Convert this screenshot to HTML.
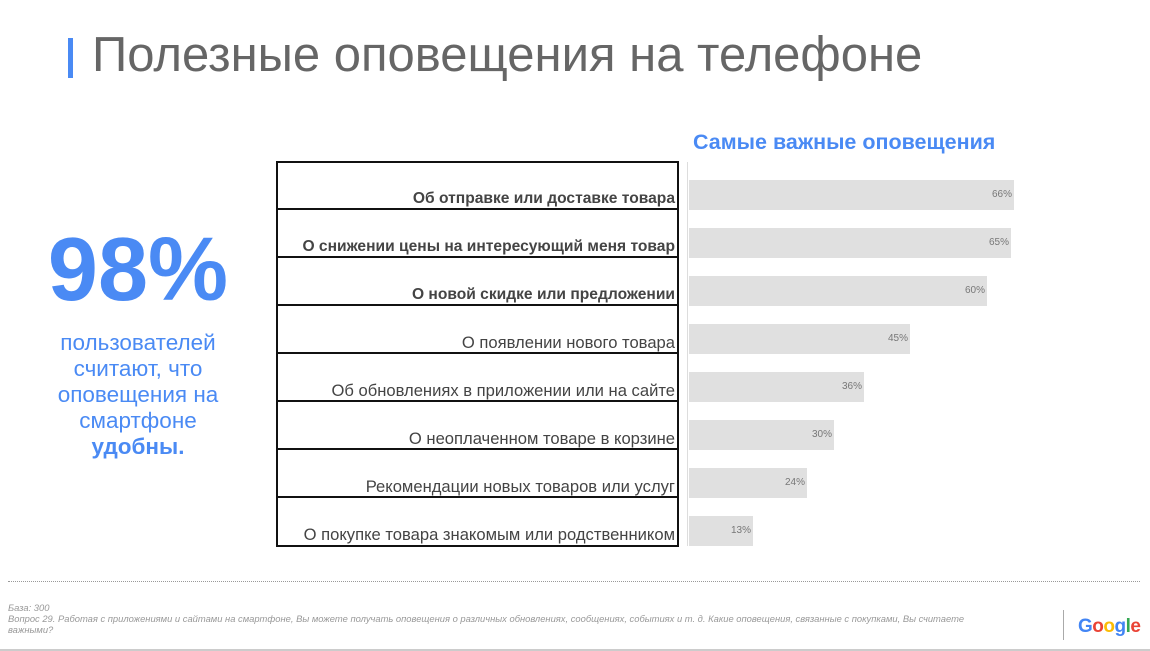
<!DOCTYPE html>
<html><head><meta charset="utf-8"><style>
body{margin:0;width:1150px;height:651px;background:#fff;position:relative;overflow:hidden;font-family:"Liberation Sans","DejaVu Sans",sans-serif}
.a{position:absolute}
.row{position:absolute;left:277px;width:401px;height:48px;box-sizing:border-box;border-bottom:2px solid #111;text-align:right;font-size:16.6px;color:#444;line-height:20px}
.row span{position:absolute;right:3px;bottom:-1px;white-space:nowrap}
.row b{font-size:15.6px}
.bar{position:absolute;left:689px;height:30px;background:#e0e0e0}
.bar span{position:absolute;right:2px;top:9px;font-size:10px;color:#777}
</style></head><body>
<div class="a" style="left:68px;top:38px;width:5px;height:40px;background:#4a8af4"></div>
<div class="a" style="left:92px;top:27px;font-size:49px;color:#666;white-space:nowrap">Полезные оповещения на телефоне</div>
<div class="a" style="left:0;width:276px;top:220px;text-align:center;font-size:90px;font-weight:bold;color:#4a8af4;line-height:100px">98%</div>
<div class="a" style="left:0;width:276px;top:330px;text-align:center;font-size:22.5px;color:#4a8af4;line-height:26px">пользователей<br>считают, что<br>оповещения на<br>смартфоне<br><b>удобны.</b></div>
<div class="a" style="left:693px;top:130px;font-size:21.5px;font-weight:bold;color:#4a8af4;white-space:nowrap">Самые важные оповещения</div>
<div class="a" style="left:276px;top:161px;width:403px;height:386px;box-sizing:border-box;border:2px solid #111"></div>
<div class="row" style="top:162px"><span><b>Об отправке или доставке товара</b></span></div>
<div class="row" style="top:210px"><span><b>О снижении цены на интересующий меня товар</b></span></div>
<div class="row" style="top:258px"><span><b>О новой скидке или предложении</b></span></div>
<div class="row" style="top:306px"><span>О появлении нового товара</span></div>
<div class="row" style="top:354px"><span>Об обновлениях в приложении или на сайте</span></div>
<div class="row" style="top:402px"><span>О неоплаченном товаре в корзине</span></div>
<div class="row" style="top:450px"><span>Рекомендации новых товаров или услуг</span></div>
<div class="row" style="top:498px;border-bottom:none"><span style="bottom:1px">О покупке товара знакомым или родственником</span></div>
<div class="a" style="left:687px;top:162px;width:1px;height:384px;background:#ddd"></div>
<div class="bar" style="top:180px;width:325px"><span>66%</span></div>
<div class="bar" style="top:228px;width:322px"><span>65%</span></div>
<div class="bar" style="top:276px;width:298px"><span>60%</span></div>
<div class="bar" style="top:324px;width:221px"><span>45%</span></div>
<div class="bar" style="top:372px;width:175px"><span>36%</span></div>
<div class="bar" style="top:420px;width:145px"><span>30%</span></div>
<div class="bar" style="top:468px;width:118px"><span>24%</span></div>
<div class="bar" style="top:516px;width:64px"><span>13%</span></div>
<div class="a" style="left:8px;top:581px;width:1132px;border-top:1px dotted #999"></div>
<div class="a" style="left:8px;top:602px;width:985px;font-size:9.4px;font-style:italic;color:#999;line-height:11px">База: 300<br>Вопрос 29. Работая с приложениями и сайтами на смартфоне, Вы можете получать оповещения о различных обновлениях, сообщениях, событиях и т. д. Какие оповещения, связанные с покупками, Вы считаете важными?</div>
<div class="a" style="left:1063px;top:610px;width:1px;height:30px;background:#aaa"></div>
<div class="a" style="left:1078px;top:616px;font-size:19px;font-weight:bold;letter-spacing:-0.5px"><span style="color:#4285f4">G</span><span style="color:#ea4335">o</span><span style="color:#fbbc05">o</span><span style="color:#4285f4">g</span><span style="color:#34a853">l</span><span style="color:#ea4335">e</span></div>
<div class="a" style="left:0;top:649px;width:1150px;height:2px;background:#ccc"></div>
</body></html>
